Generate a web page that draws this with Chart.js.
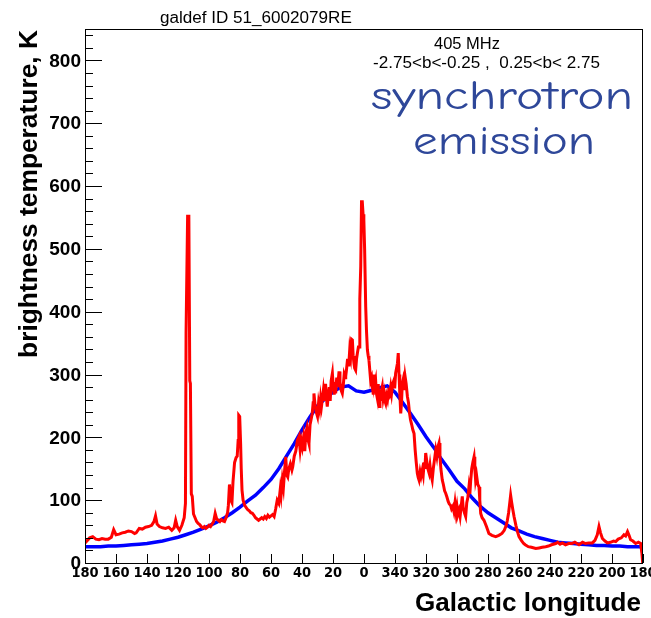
<!DOCTYPE html>
<html><head><meta charset="utf-8">
<script src="https://cdn.jsdelivr.net/npm/chart.js@4.4.1/dist/chart.umd.min.js"></script>
<style>html,body{margin:0;padding:0;background:#fff}#wrap{width:651px;height:618px;position:relative}</style>
</head><body><div id="wrap"><canvas id="c" width="651" height="618"></canvas></div>
<script>
// ---- texts ----
const titleText = "galdef ID 51_6002079RE";
const freqText = "405 MHz";
const latText = "-2.75<b<-0.25 ,  0.25<b< 2.75";
const noteLines = ["synchrotron", "emission"];
const xTitle = "Galactic longitude";
const yTitle = "brightness temperature, K";

// ---- axes (signed longitude: left half positive, right half = 360+lon) ----
const xTickLon = [180,160,140,120,100,80,60,40,20,0,-20,-40,-60,-80,-100,-120,-140,-160,-180];
const xTickLabels = ["180","160","140","120","100","80","60","40","20","0","340","320","300","280","260","240","220","200","180"];
const yTickValues = [0,100,200,300,400,500,600,700,800];
const yMinorValues = [20,40,60,80,120,140,160,180,220,240,260,280,320,340,360,380,420,440,460,480,520,540,560,580,620,640,660,680,720,740,760,780,820,840];

// ---- model (blue) ----
const modelLon = [180,175,170,165,160,155,150,145,140,135,130,125,120,115,110,105,100,95,90,85,80,75,70,65,60,55,50,45,40,35,30,25,20,15,10,5,0,-5,-10,-15,-20,-25,-30,-35,-40,-45,-50,-55,-60,-65,-70,-75,-80,-85,-90,-95,-100,-105,-110,-115,-120,-125,-130,-135,-140,-145,-150,-155,-160,-165,-170,-175,-178,-179.5,-180];
const modelTemp = [26,26,26,27,27,28,29,30,31,33,35,38,41,45,49,54,59,65,72,80,89,99,108,120,133,150,170,190,212,232,250,262,272,280,282,274,272,275,279,282,272,255,238,220,201,184,165,148,130,118,103,90,80,72,64,56,51,46,42,39,36,33,32,31,30,29,28,28,27,27,26,26,26,24,12];

// ---- data (red) ----
const dataLon = [180,178.5,177,175,173,171,169,167,165,163,161.5,160,158,156,154,152,150,148,147,145,143,141,139,137,135.5,134.5,133.5,132,130,128,126,124,122.5,121.5,120.5,119,117.5,116,115.2,114.8,114.3,113.8,113.0,112.4,112,111.4,110.8,110,109,108,107,106,105,104,103,102,101,100,99,98,97,96,95,94,93,92,91,90,89,88,87.5,86.8,86,85.2,84.5,83.5,82.5,81.8,81.2,80.8,80.2,79.6,79.2,78.7,78,77,76,75,74,73,72,71,70,69,68,67,66,65,64,63,62,61,60,59,58,57,56,55,54,53.5,52.7,52,51.2,50.5,49.8,49.2,48.5,47.5,46.5,46,45,44,43,42,41.2,40.5,39.8,39,38.2,37.6,36.8,36,35.5,34.8,34,33.4,32.8,32.3,31.5,30.8,30,29.3,28.6,28,27.4,26.9,26.2,25.5,24.8,24.2,23.7,23,22.4,21.8,21.2,20.4,19.8,19.2,18.6,18.3,17.6,17,16.1,15.5,14.8,14,13.4,12.8,12.2,11.8,11.2,10.6,10.2,9.7,9.2,8.6,8,7.5,7,6.5,6,5.4,4.8,4.2,3.6,3.2,2.7,2.1,1.6,1.1,0.6,0.1,-0.4,-1.1,-1.6,-2.2,-2.7,-3.2,-3.8,-4.3,-4.9,-5.4,-6,-6.5,-7,-7.5,-8,-8.6,-9.2,-9.7,-10.3,-10.8,-11.3,-11.8,-12.4,-13,-13.5,-14,-14.6,-15.2,-15.8,-16.4,-17.2,-17.8,-18.5,-19.2,-19.8,-20.4,-21,-21.6,-22.1,-22.6,-23.1,-23.7,-24.2,-24.7,-25.2,-25.8,-26.5,-27.2,-28,-28.7,-29.3,-30,-30.8,-31.5,-32.3,-33,-33.7,-34.4,-35,-35.5,-36.2,-36.8,-37.6,-38.2,-38.8,-39.3,-39.8,-40.5,-41.2,-42,-42.6,-43.3,-44,-44.7,-45.5,-46.3,-47,-47.7,-48.4,-49,-49.6,-50.5,-51.2,-52,-52.7,-53.5,-54.3,-55,-55.8,-56.5,-57.3,-58,-58.7,-59.4,-60,-60.6,-61.3,-62,-62.7,-63.4,-64,-64.8,-65.6,-66.3,-67,-67.7,-68.3,-68.8,-69.5,-70.2,-71,-71.5,-72,-72.6,-73.4,-74.2,-74.7,-75.3,-76.2,-77.4,-79,-80.6,-82.5,-85,-87,-89,-90.5,-91.8,-92.5,-93.3,-94,-94.6,-95.3,-96,-96.8,-98,-99,-100,-101.5,-103,-104,-106,-108,-110.8,-113,-115,-117.2,-119,-121,-123.7,-125,-126.5,-128,-130,-132,-134,-136,-138.7,-141,-143,-145,-147.3,-149,-150.5,-151.6,-152.6,-153.8,-155.5,-157,-159,-161,-162.4,-164,-166,-167.7,-168.8,-170,-171,-172,-173.5,-175.3,-177,-178.5,-179.3,-179.8];
const dataTemp = [32,36,40,42,38,37,39,38,38,41,53,45,46,48,49,51,50,47,48,55,54,57,58,60,66,75,62,58,56,55,57,52,56,68,58,52,60,72,95,366,366,552,552,290,286,110,106,78,72,66,63,61,58,56,58,55,57,60,58,62,66,79,70,68,66,69,67,66,72,80,92,125,100,96,130,160,168,170,195,235,233,190,150,116,100,92,88,85,83,80,79,76,72,70,68,70,72,70,74,71,76,73,75,77,74,86,100,95,118,108,132,120,148,169,140,137,150,158,148,153,170,178,195,201,180,195,185,200,178,206,215,195,190,220,230,238,255,270,250,240,233,255,245,262,250,260,275,258,285,262,249,268,280,258,290,302,280,268,288,270,295,280,305,288,275,270,282,300,295,297,310,325,315,320,340,330,356,355,330,318,310,307,325,335,344,344,420,472,575,575,555,546,500,408,370,339,330,323,305,290,295,281,268,300,285,291,270,262,285,249,268,258,275,281,262,270,258,254,266,260,272,268,281,270,285,290,278,302,310,318,334,300,270,238,255,285,291,275,297,285,265,255,240,228,220,212,206,180,160,143,136,132,145,138,148,140,160,150,175,162,150,143,155,140,132,150,165,180,170,185,191,170,150,132,125,115,111,105,98,94,92,86,90,82,96,80,90,78,84,74,90,106,88,80,74,96,104,121,110,130,150,160,169,150,132,140,125,121,100,79,72,68,58,47,44,42,44,47,52,60,68,80,95,108,96,85,74,60,50,42,36,31,29,26,25,23,24,25,26,27,29,31,33,30,32,29,31,31,33,29,33,31,32,32,36,45,58,48,39,35,32,33,35,34,38,40,45,43,50,44,37,35,31,33,31,15,0];

const toX = lon => -lon;
const modelPts = modelLon.map((l,i)=>({x:toX(l), y:modelTemp[i]}));
const dataPts = dataLon.map((l,i)=>({x:toX(l), y:dataTemp[i]}));

function fitSize(ctx, text, weight, family, targetW){
  ctx.font = `${weight} 100px ${family}`;
  return 100*targetW/ctx.measureText(text).width;
}

const decor = {
  id:'decor',
  afterDraw(chart){
    const {ctx, chartArea:a, scales:{x,y}} = chart;
    ctx.save();
    ctx.strokeStyle = '#000'; ctx.lineWidth = 1;
    ctx.strokeRect(a.left+0.5, a.top+0.5, a.right-a.left-1, a.bottom-a.top);
    ctx.beginPath();
    yTickValues.forEach(v=>{const py=Math.round(y.getPixelForValue(v))+0.5; ctx.moveTo(a.left,py); ctx.lineTo(a.left+17,py);});
    yMinorValues.forEach(v=>{const py=Math.round(y.getPixelForValue(v))+0.5; ctx.moveTo(a.left,py); ctx.lineTo(a.left+8,py);});
    xTickLon.forEach(l=>{const px=Math.round(x.getPixelForValue(toX(l)))+0.5; ctx.moveTo(px,a.bottom); ctx.lineTo(px,a.bottom-9);});
    ctx.stroke();
    ctx.fillStyle = '#000';
    ctx.font = "bold 19px 'Liberation Sans', Arial, sans-serif";
    ctx.textAlign = 'right'; ctx.textBaseline = 'middle';
    yTickValues.forEach(v=>{ctx.fillText(String(v), a.left-4, y.getPixelForValue(v)+1);});
    ctx.font = "bold 14.5px 'Liberation Sans Narrow', 'DejaVu Sans Condensed', sans-serif";
    ctx.textAlign = 'center'; ctx.textBaseline = 'middle';
    xTickLon.forEach((l,i)=>{ctx.fillText(xTickLabels[i], x.getPixelForValue(toX(l)), a.bottom+10);});
    let s = fitSize(ctx, xTitle, 'bold', "'Liberation Sans', Arial, sans-serif", 226);
    ctx.font = `bold ${s}px 'Liberation Sans', Arial, sans-serif`;
    ctx.textAlign = 'right'; ctx.textBaseline = 'middle';
    ctx.fillText(xTitle, 641, 604);
    s = fitSize(ctx, yTitle, 'bold', "'Liberation Sans', Arial, sans-serif", 328);
    ctx.save(); ctx.translate(30, 194); ctx.rotate(-Math.PI/2);
    ctx.font = `bold ${s}px 'Liberation Sans', Arial, sans-serif`;
    ctx.textAlign = 'center'; ctx.textBaseline = 'middle';
    ctx.fillText(yTitle, 0, 0); ctx.restore();
    s = fitSize(ctx, titleText, 'normal', "'Liberation Sans', Arial, sans-serif", 192);
    ctx.font = `${s}px 'Liberation Sans', Arial, sans-serif`;
    ctx.textAlign = 'left'; ctx.fillText(titleText, 160, 18);
    s = fitSize(ctx, freqText, 'normal', "'Liberation Sans', Arial, sans-serif", 66);
    ctx.font = `${s}px 'Liberation Sans', Arial, sans-serif`;
    ctx.fillText(freqText, 434, 44);
    s = fitSize(ctx, latText, 'normal', "'Liberation Sans', Arial, sans-serif", 227);
    ctx.font = `${s}px 'Liberation Sans', Arial, sans-serif`;
    ctx.fillText(latText, 373, 63);
    ctx.fillStyle = '#2e4799';
    const fam = "'Comic Sans MS', 'Comic Neue', 'DejaVu Sans', sans-serif";
    const boxes = [[371, 109, 262], [413, 154, 182]];
    noteLines.forEach((t,i)=>{
      ctx.font = `40px ${fam}`;
      const w = ctx.measureText(t).width;
      const [lx, by, tw] = boxes[i];
      ctx.save(); ctx.translate(lx, by); ctx.scale(tw/w, 1);
      ctx.textAlign='left'; ctx.textBaseline='alphabetic';
      ctx.fillText(t, 0, 0); ctx.restore();
    });
    ctx.restore();
  }
};

new Chart(document.getElementById('c'), {
  type: 'scatter',
  data: { datasets: [
    { label:'data', data: dataPts, showLine:true, borderColor:'#ff0000', borderWidth:3, pointRadius:0, tension:0, order:0 },
    { label:'model', data: modelPts, showLine:true, borderColor:'#0000ff', borderWidth:3.5, pointRadius:0, tension:0, order:1 }
  ]},
  options: {
    responsive:false, animation:false, devicePixelRatio:1,
    layout:{ padding:{ left:85, right:8, top:29, bottom:55 } },
    plugins:{ legend:{display:false}, tooltip:{enabled:false} },
    scales:{
      x:{ type:'linear', min:-180, max:180, display:false },
      y:{ type:'linear', min:0, max:850, display:false }
    }
  },
  plugins:[decor]
});
</script></body></html>
